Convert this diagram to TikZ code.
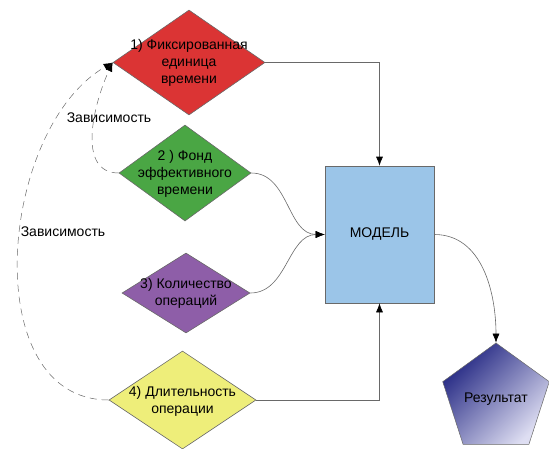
\documentclass[tikz,border=0pt]{standalone}
\usepackage{fontspec}
\setmainfont{Liberation Sans}
\usetikzlibrary{shapes.geometric,arrows.meta}
\definecolor{fixred}{RGB}{219,52,52}
\definecolor{fondgreen}{RGB}{74,166,68}
\definecolor{kolpurple}{RGB}{142,94,168}
\definecolor{dlityellow}{RGB}{238,238,122}
\definecolor{modelblue}{RGB}{155,197,232}
\definecolor{resdark}{RGB}{34,38,130}
\definecolor{reslight}{RGB}{222,222,242}
\definecolor{edgegray}{RGB}{105,105,105}
\begin{document}
\begin{tikzpicture}[x=1pt,y=-1pt,every node/.style={font=\fontsize{14}{17}\selectfont},
  diam/.style={diamond,draw=edgegray,line width=0.6pt,inner sep=0pt},
  txt/.style={align=center,inner sep=0pt},
  link/.style={draw=edgegray,line width=0.6pt,-{Latex[length=9pt,width=7pt,color=black]}},
  dep/.style={draw=edgegray,line width=0.5pt,dash pattern=on 7pt off 5pt,-{Latex[length=9pt,width=7pt,color=black]}}]
\useasboundingbox (0,0) rectangle (549,448);
% inputs
\node[diam,fill=fixred,minimum width=152pt,minimum height=105pt] (fix) at (189,62.5) {};
\node[txt] (fixt) at (189,63) {1) Фиксированная\\единица\\времени};
\node[diam,fill=fondgreen,minimum width=132pt,minimum height=96pt] (fond) at (185,173) {};
\node[txt] (fondt) at (185,174) {2 ) Фонд\\эффективного\\времени};
\node[diam,fill=kolpurple,minimum width=128pt,minimum height=80pt] (kol) at (186,293) {};
\node[txt] (kolt) at (186,293) {3) Количество\\операций};
\node[diam,fill=dlityellow,minimum width=147pt,minimum height=98pt] (dlit) at (182.5,400) {};
\node[txt] (dlitt) at (182.5,401) {4) Длительность\\операции};
% model and result
\node[draw=edgegray,line width=0.6pt,fill=modelblue,minimum width=109pt,minimum height=137pt] (model) at (379.5,234.5) {МОДЕЛЬ};
\node[regular polygon,regular polygon sides=5,minimum size=112pt,inner sep=0pt,draw=edgegray,line width=0.5pt,
  top color=resdark,bottom color=reslight,shading angle=45] (res) at (496,399) {Результат};
% links
\draw[link] (fix.east) -| (model.north);
\draw[link] (fond.east) to[out=0,in=180] (model.west);
\draw[link] (kol.east) to[out=0,in=180] (model.west);
\draw[link] (dlit.east) -| (model.south);
\draw[link] (model.east) to[out=0,in=90] (res.corner 1);
% dependencies
\draw[dep] (fond.west) to[out=180,in=-115] (fix.west);
\draw[dep] (dlit.west) to[out=180,in=210] (fix.west);
\node[txt] (dep1) at (109,118) {Зависимость};
\node[txt] (dep2) at (63,232) {Зависимость};
\end{tikzpicture}
\end{document}
